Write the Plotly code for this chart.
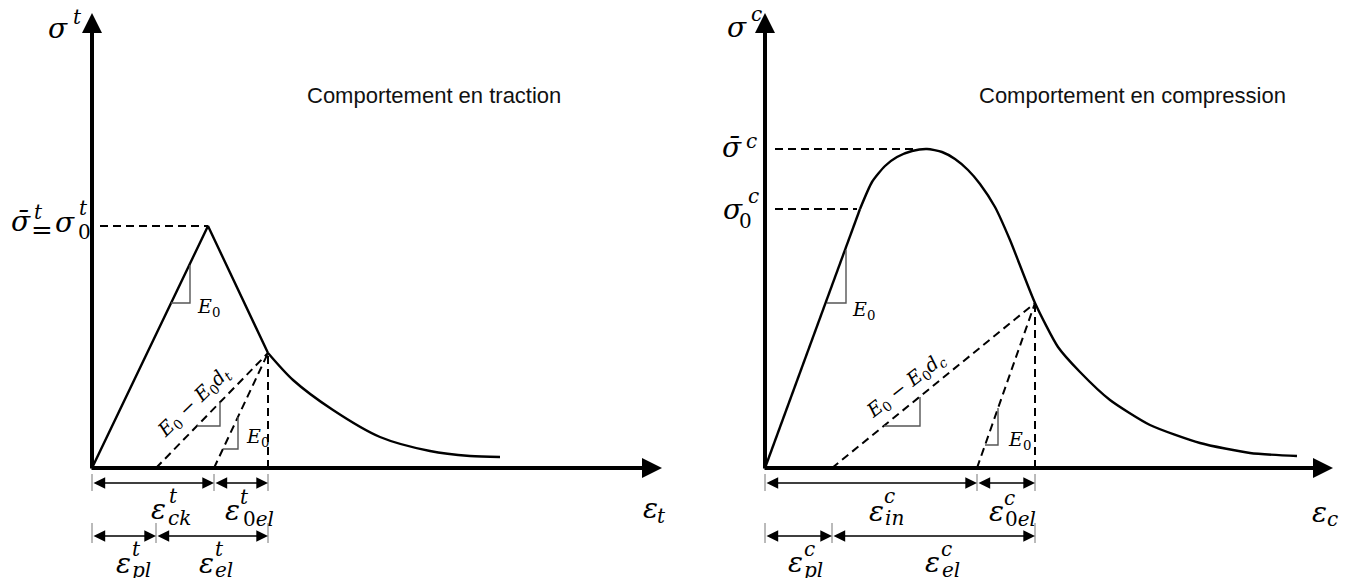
import plotly.graph_objects as go

MATH = "DejaVu Serif"
SANS = "Liberation Sans"

# ---------------- Traction panel (schematic strain / stress units) ----------------
t_rise_strain = [0.0, 1.16, 1.76]
t_rise_stress = [0.0, 2.42, 1.15]
t_tail_strain = [1.76, 2.01, 2.41, 2.88, 3.38, 3.78, 4.08]
t_tail_stress = [1.15, 0.88, 0.58, 0.31, 0.17, 0.12, 0.11]
t_sigma0 = 2.42
t_eps_peak = 1.16
t_dash_start = 0.08
t_unload = [1.76, 1.15]
t_eps_pl = 0.64
t_eps_ck = 1.22
t_axis_tip = [5.70, 4.55]
t_tri1_strain = [0.79, 0.98, 0.98]
t_tri1_stress = [1.65, 1.65, 2.03]
t_tri2_strain = [1.05, 1.28, 1.28]
t_tri2_stress = [0.42, 0.42, 0.66]
t_tri3_strain = [1.31, 1.46, 1.46]
t_tri3_stress = [0.19, 0.19, 0.51]

# ---------------- Compression panel ----------------
c_rise_strain = [0.0, 0.95]
c_rise_stress = [0.0, 2.59]
c_curve_strain = [0.95, 1.07, 1.20, 1.32, 1.47, 1.62, 1.77, 1.90, 2.03, 2.15, 2.30,
                  2.45, 2.70, 2.93, 3.15, 3.45, 3.85, 4.35, 4.85, 5.32]
c_curve_stress = [2.59, 2.86, 3.02, 3.11, 3.17, 3.19, 3.16, 3.09, 2.98, 2.84, 2.61,
                  2.28, 1.65, 1.21, 0.96, 0.68, 0.43, 0.25, 0.15, 0.12]
c_sigma_bar = 3.19
c_eps_bar_dash = 1.48
c_sigma0 = 2.59
c_eps0_dash = 0.92
c_dash_start = 0.10
c_unload = [2.70, 1.65]
c_eps_pl = 0.67
c_eps_in = 2.12
c_axis_tip = [5.68, 4.55]
c_tri1_strain = [0.62, 0.81, 0.81]
c_tri1_stress = [1.65, 1.65, 2.18]
c_tri2_strain = [1.19, 1.55, 1.55]
c_tri2_stress = [0.42, 0.42, 0.71]
c_tri3_strain = [2.20, 2.33, 2.33]
c_tri3_stress = [0.23, 0.23, 0.60]

row1_level = -0.15
row2_level = -0.68

fig = go.Figure()


def seg(xs, ys, ax, dash=None, width=2.4, color="black", shape="linear", smooth=0.6):
    yax = "y" if ax == "x" else "y2"
    fig.add_trace(go.Scatter(
        x=xs, y=ys, xaxis=ax, yaxis=yax, mode="lines",
        line=dict(color=color, width=width, dash=dash, shape=shape, smoothing=smooth),
        hoverinfo="skip", showlegend=False))


DASH = "8px,5px"
# --- traction curves
seg(t_rise_strain, t_rise_stress, "x")
seg(t_tail_strain, t_tail_stress, "x", shape="spline", smooth=0.8)
seg([t_dash_start, t_eps_peak], [t_sigma0, t_sigma0], "x", dash=DASH, width=2)
seg([t_eps_pl, t_unload[0]], [0, t_unload[1]], "x", dash=DASH, width=2)
seg([t_eps_ck, t_unload[0]], [0, t_unload[1]], "x", dash=DASH, width=2)
seg([t_unload[0], t_unload[0]], [0, t_unload[1]], "x", dash=DASH, width=2)
for xs, ys in [(t_tri1_strain, t_tri1_stress), (t_tri2_strain, t_tri2_stress),
               (t_tri3_strain, t_tri3_stress)]:
    seg(xs, ys, "x", width=1.4, color="#555555")

# --- compression curves
seg(c_rise_strain, c_rise_stress, "x2")
seg(c_curve_strain, c_curve_stress, "x2", shape="spline", smooth=0.6)
seg([c_dash_start, c_eps_bar_dash], [c_sigma_bar, c_sigma_bar], "x2", dash=DASH, width=2)
seg([c_dash_start, c_eps0_dash], [c_sigma0, c_sigma0], "x2", dash=DASH, width=2)
seg([c_eps_pl, c_unload[0]], [0, c_unload[1]], "x2", dash=DASH, width=2)
seg([c_eps_in, c_unload[0]], [0, c_unload[1]], "x2", dash=DASH, width=2)
seg([c_unload[0], c_unload[0]], [0, c_unload[1]], "x2", dash=DASH, width=2)
for xs, ys in [(c_tri1_strain, c_tri1_stress), (c_tri2_strain, c_tri2_stress),
               (c_tri3_strain, c_tri3_stress)]:
    seg(xs, ys, "x2", width=1.4, color="#555555")

# --- dimension ticks
for ax, r1, r2 in [("x", [0, t_eps_ck, t_unload[0]], [0, t_eps_pl, t_unload[0]]),
                   ("x2", [0, c_eps_in, c_unload[0]], [0, c_eps_pl, c_unload[0]])]:
    for v in r1:
        seg([v, v], [-0.06, -0.23], ax, width=1, color="#777777")
    for v in r2:
        seg([v, v], [-0.55, -0.75], ax, width=1, color="#777777")

ann = []


def arrow(ax, x0, y0, x1, y1, width=4, size=1.0, both=False):
    yr = "y" if ax == "x" else "y2"
    d = dict(x=x1, y=y1, ax=x0, ay=y0, xref=ax, yref=yr, axref=ax, ayref=yr,
             text="", showarrow=True, arrowhead=2, arrowsize=size, arrowwidth=width,
             arrowcolor="black", standoff=0, startstandoff=0)
    if both:
        d.update(arrowside="end+start", startarrowhead=2, startarrowsize=size)
    ann.append(d)


def txt(ax, x, y, text, size=28, family=MATH, xanchor="center", angle=0, color="black"):
    yr = "y" if ax == "x" else "y2"
    ann.append(dict(x=x, y=y, xref=ax, yref=yr, text=text, showarrow=False,
                    xanchor=xanchor, yanchor="middle", textangle=angle,
                    font=dict(family=family, size=size, color=color)))


# axes arrows
arrow("x", 0, -0.02, 0, t_axis_tip[1])
arrow("x", -0.02, 0, t_axis_tip[0], 0)
arrow("x2", 0, -0.02, 0, c_axis_tip[1])
arrow("x2", -0.02, 0, c_axis_tip[0], 0)

# dimension arrows
arrow("x", 0, row1_level, t_eps_ck, row1_level, width=1.3, size=1.8, both=True)
arrow("x", t_eps_ck, row1_level, t_unload[0], row1_level, width=1.3, size=1.8, both=True)
arrow("x", 0, row2_level, t_eps_pl, row2_level, width=1.3, size=1.8, both=True)
arrow("x", t_eps_pl, row2_level, t_unload[0], row2_level, width=1.3, size=1.8, both=True)
arrow("x2", 0, row1_level, c_eps_in, row1_level, width=1.3, size=1.8, both=True)
arrow("x2", c_eps_in, row1_level, c_unload[0], row1_level, width=1.3, size=1.8, both=True)
arrow("x2", 0, row2_level, c_eps_pl, row2_level, width=1.3, size=1.8, both=True)
arrow("x2", c_eps_pl, row2_level, c_unload[0], row2_level, width=1.3, size=1.8, both=True)

BIG = 28
SUP = 20
SLOPE = 19
# titles
txt("x", 2.13, 3.73, "Comportement en traction", size=22, family=SANS, xanchor="left", color="#111111")
txt("x2", 2.12, 3.73, "Comportement en compression", size=22, family=SANS, xanchor="left", color="#111111")

# traction stress labels
txt("x", -0.34, 4.40, "<i>σ</i>", BIG)
txt("x", -0.21, 4.51, "<i>t</i>", SUP, xanchor="left")
txt("x", -0.71, 2.47, "<i>σ̄</i>", BIG)
txt("x", -0.60, 2.56, "<i>t</i>", SUP, xanchor="left")
txt("x", -0.50, 2.38, "=", 26)
txt("x", -0.27, 2.46, "<i>σ</i>", BIG)
txt("x", -0.15, 2.60, "<i>t</i>", SUP, xanchor="left")
txt("x", -0.16, 2.36, "0", SUP, xanchor="left")

# traction strain labels
t_eps_labels = [(0.66, -0.41, "t", "ck", 0.75, -0.28, 0.74, -0.50),
                (1.40, -0.42, "t", "0el", 1.46, -0.29, 1.49, -0.51),
                (0.31, -0.95, "t", "pl", 0.38, -0.81, 0.38, -1.02),
                (1.14, -0.95, "t", "el", 1.21, -0.81, 1.21, -1.02)]
for ex, ey, sp, sb, sx, sy, bx, by in t_eps_labels:
    txt("x", ex, ey, "<i>ε</i>", BIG)
    txt("x", sx, sy, "<i>%s</i>" % sp, SUP, xanchor="left")
    sbt = "<i>%s</i>" % sb if not sb.startswith("0") else "0<i>%s</i>" % sb[1:]
    txt("x", bx, by, sbt, SUP, xanchor="left")
txt("x", 5.58, -0.40, "<i>ε</i>", BIG)
txt("x", 5.63, -0.48, "<i>t</i>", SUP, xanchor="left")

# slope labels traction
txt("x", 1.03, 1.61, "<i>E</i><sub>0</sub>", SLOPE, xanchor="left")
txt("x", 1.52, 0.31, "<i>E</i><sub>0</sub>", SLOPE, xanchor="left")
txt("x", 1.02, 0.66, "<i>E</i><sub>0</sub> − <i>E</i><sub>0</sub><i>d</i><sub><i>t</i></sub>", SLOPE, angle=-44)

# compression stress labels
txt("x2", -0.28, 4.41, "<i>σ</i>", BIG)
txt("x2", -0.16, 4.54, "<i>c</i>", SUP, xanchor="left")
txt("x2", -0.33, 3.21, "<i>σ̄</i>", BIG)
txt("x2", -0.21, 3.27, "<i>c</i>", SUP, xanchor="left")
txt("x2", -0.32, 2.59, "<i>σ</i>", BIG)
txt("x2", -0.19, 2.72, "<i>c</i>", SUP, xanchor="left")
txt("x2", -0.28, 2.47, "0", SUP, xanchor="left")

c_eps_labels = [(1.11, -0.43, "c", "in", 1.17, -0.28, 1.18, -0.50),
                (2.31, -0.43, "c", "0el", 2.37, -0.30, 2.38, -0.51),
                (0.30, -0.94, "c", "pl", 0.37, -0.81, 0.37, -1.02),
                (1.67, -0.94, "c", "el", 1.74, -0.81, 1.75, -1.02)]
for ex, ey, sp, sb, sx, sy, bx, by in c_eps_labels:
    txt("x2", ex, ey, "<i>ε</i>", BIG)
    txt("x2", sx, sy, "<i>%s</i>" % sp, SUP, xanchor="left")
    sbt = "<i>%s</i>" % sb if not sb.startswith("0") else "0<i>%s</i>" % sb[1:]
    txt("x2", bx, by, sbt, SUP, xanchor="left")
txt("x2", 5.54, -0.44, "<i>ε</i>", BIG)
txt("x2", 5.60, -0.51, "<i>c</i>", SUP, xanchor="left")

txt("x2", 0.85, 1.58, "<i>E</i><sub>0</sub>", SLOPE, xanchor="left")
txt("x2", 2.41, 0.28, "<i>E</i><sub>0</sub>", SLOPE, xanchor="left")
txt("x2", 1.41, 0.83, "<i>E</i><sub>0</sub> − <i>E</i><sub>0</sub><i>d</i><sub><i>c</i></sub>", SLOPE, angle=-38)

ax_common = dict(visible=False, showgrid=False, zeroline=False, fixedrange=True)
fig.update_layout(
    width=1336, height=570, autosize=False,
    margin=dict(l=0, r=0, t=0, b=0),
    paper_bgcolor="white", plot_bgcolor="white",
    xaxis=dict(domain=[0, 0.5], range=[-0.84, 5.84], **ax_common),
    yaxis=dict(domain=[0, 1], range=[-1.10, 4.60], **ax_common),
    xaxis2=dict(domain=[0.5, 1], range=[-0.89, 5.79], anchor="y2", **ax_common),
    yaxis2=dict(domain=[0, 1], range=[-1.10, 4.60], anchor="x2", **ax_common),
    annotations=ann,
    showlegend=False,
)

fig.write_html("out.html")
